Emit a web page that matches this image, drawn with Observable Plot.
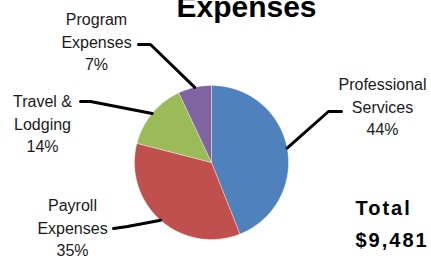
<!DOCTYPE html>
<html>
<head>
<meta charset="utf-8">
<script src="https://cdn.jsdelivr.net/npm/d3@7"></script>
<script src="https://cdn.jsdelivr.net/npm/@observablehq/plot@0.6"></script>
<style>
  html, body { margin: 0; padding: 0; background: #fff; }
  #chart svg { display: block; }
  .total-text text { letter-spacing: 2px; }
</style>
</head>
<body>
<div id="chart"></div>
<script>
// ---- data ----
const title = "Expenses";
const categories = ["Professional Services", "Payroll Expenses", "Travel & Lodging", "Program Expenses"];
const categoryLines = ["Professional\nServices", "Payroll\nExpenses", "Travel &\nLodging", "Program\nExpenses"];
const percents = [44, 35, 14, 7];
const colors = ["#4F81BD", "#C0504D", "#9BBB59", "#8064A2"];
const totalLabel = "Total";
const totalValue = "$9,481";

// ---- layout (positions in pixel space) ----
const W = 431, H = 259;
const cx = 211, cy = 162, r = 77;
const labelLayout = [
  {x: 382, y: 105, elbow: [328, 111], end: [341, 111]},
  {x: 72,  y: 226, elbow: [127, 226], end: [113, 228]},
  {x: 42,  y: 122, elbow: [90, 101],  end: [80, 101]},
  {x: 96,  y: 40,  elbow: [150, 44],  end: [138, 44]}
];

const arcs = d3.pie().sort(null)(percents);
const pt = (a, rad) => [cx + rad * Math.sin(a), cy - rad * Math.cos(a)];

const sliceMarks = arcs.map((a, i) => {
  const pts = [[cx, cy]];
  const n = Math.max(2, Math.ceil((a.endAngle - a.startAngle) / 0.02));
  for (let k = 0; k <= n; k++) {
    pts.push(pt(a.startAngle + (a.endAngle - a.startAngle) * k / n, r));
  }
  pts.push([cx, cy]);
  return Plot.line(pts, {x: d => d[0], y: d => d[1], fill: colors[i], stroke: "#ffffff", strokeWidth: 0.6, strokeOpacity: 0.6, curve: "linear"});
});

const leaderData = [];
arcs.forEach((a, i) => {
  const mid = (a.startAngle + a.endAngle) / 2;
  const e = pt(mid, r);
  const L = labelLayout[i];
  leaderData.push({z: i, x: e[0], y: e[1]});
  leaderData.push({z: i, x: L.elbow[0], y: L.elbow[1]});
  leaderData.push({z: i, x: L.end[0], y: L.end[1]});
});

const labelData = categories.map((c, i) => ({
  text: categoryLines[i] + "\n" + percents[i] + "%",
  x: labelLayout[i].x, y: labelLayout[i].y
}));

const chart = Plot.plot({
  width: W, height: H,
  margin: 0,
  x: {domain: [0, W], range: [0, W], axis: null},
  y: {domain: [0, H], range: [0, H], axis: null},
  style: {fontFamily: "'Liberation Sans', Arial, sans-serif", background: "#fff"},
  marks: [
    ...sliceMarks,
    Plot.line(leaderData, {x: "x", y: "y", z: "z", stroke: "#000", strokeWidth: 3, strokeLinejoin: "miter"}),
    Plot.text(labelData, {x: "x", y: "y", text: "text", textAnchor: "middle", lineAnchor: "middle", lineHeight: 1.42, fontSize: 16, fill: "#1a1a1a"}),
    Plot.text([title], {x: () => 246, y: () => 16, text: d => d, textAnchor: "middle", lineAnchor: "bottom", fontSize: 30, fontWeight: "bold", fill: "#000"}),
    Plot.text([totalLabel + "\n" + totalValue], {x: () => 355, y: () => 220, text: d => d, textAnchor: "start", lineAnchor: "middle", lineHeight: 1.6, fontSize: 20, fontWeight: "bold", fill: "#000", className: "total-text"})
  ]
});
document.getElementById("chart").appendChild(chart);
</script>
</body>
</html>
